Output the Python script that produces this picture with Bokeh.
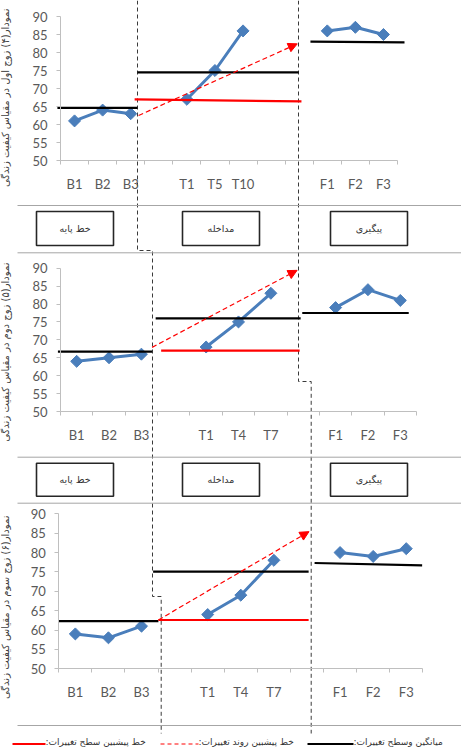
import numpy as np
from bokeh.plotting import figure
from bokeh.models import Range1d, LinearAxis, FixedTicker, Arrow, NormalHead
from bokeh.core.properties import value
from bokeh.embed import file_html
from bokeh.resources import INLINE

# ---------------- data ----------------
cats_1 = ["B1", "B2", "B3", "", "T1", "T5", "T10", "", "", "F1", "F2", "F3"]
cats_2 = ["B1", "B2", "B3", "", "T1", "T4", "T7", "", "F1", "F2", "F3"]
cats_3 = ["B1", "B2", "B3", "", "T1", "T4", "T7", "", "F1", "F2", "F3"]

base_1 = [61, 64, 63]
treat_1 = [67, 75, 86]
follow_1 = [86, 87, 85]

base_2 = [64, 65, 66]
treat_2 = [68, 75, 83]
follow_2 = [79, 84, 81]

base_3 = [59, 58, 61]
treat_3 = [64, 69, 78]
follow_3 = [80, 79, 81]

# hand-drawn guide lines (x in category slots, y in score units)
mean_x_1 = [[0.39, 3.24], [3.24, 8.98], [9.40, 12.75]]
mean_y_1 = [[64.6, 64.6], [74.5, 74.5], [83.0, 82.8]]
level_x_1 = [3.14, 9.08]
level_y_1 = [67.0, 66.4]
trend_x_1 = [3.28, 8.93]
trend_y_1 = [62.5, 82.4]

mean_x_2 = [[0.42, 3.33], [3.44, 7.92], [7.97, 11.26]]
mean_y_2 = [[66.7, 66.7], [76.0, 76.0], [77.5, 77.5]]
level_x_2 = [3.61, 7.89]
level_y_2 = [67.0, 67.0]
trend_x_2 = [3.33, 7.81]
trend_y_2 = [67.9, 89.4]

mean_x_3 = [[0.50, 3.51], [3.35, 8.05], [8.23, 11.48]]
mean_y_3 = [[62.3, 62.3], [75.1, 75.1], [77.3, 76.7]]
level_x_3 = [3.51, 8.05]
level_y_3 = [62.6, 62.6]
trend_x_3 = [3.51, 8.06]
trend_y_3 = [62.6, 85.4]

y_ticks = [50, 55, 60, 65, 70, 75, 80, 85, 90]

titles = [
    "نمودار(۴) زوج اول در مقیاس کیفیت زندگی",
    "نمودار(۵) زوج دوم در مقیاس کیفیت زندگی",
    "نمودار(۶) زوج سوم در مقیاس کیفیت زندگی",
]
phase_labels = ["خط پایه", "مداخله", "پیگیری"]
legend_labels = [
    "خط پیشبین سطح تغییرات:\u200f",
    "خط پیشبین روند تغییرات:\u200f",
    "میانگین وسطح تغییرات:\u200f",
]

# ---------------- layout (reference pixel geometry) ----------------
W, H = 461, 749


def cx(rx):
    return rx


def cy(ry):
    return ry


BLUE = "#4a7ebb"
AXIS = "#bfbfbf"
TICK_TXT = "#595959"
NUM_FONT = "Lato"
FA_FONT = "DejaVu Sans"

p = figure(width=W, height=H, x_range=Range1d(0, W), y_range=Range1d(H, 0),
           x_axis_type=None, y_axis_type=None, toolbar_location=None,
           output_backend="svg", min_border=0, outline_line_color=None,
           background_fill_color="white", border_fill_color="white")

panels = [
    dict(cats=cats_1, series=[base_1, treat_1, follow_1],
         mean_x=mean_x_1, mean_y=mean_y_1, level_x=level_x_1, level_y=level_y_1,
         trend_x=trend_x_1, trend_y=trend_y_1, frame=(60, 397, 16, 160),
         title=titles[0], title_top=8),
    dict(cats=cats_2, series=[base_2, treat_2, follow_2],
         mean_x=mean_x_2, mean_y=mean_y_2, level_x=level_x_2, level_y=level_y_2,
         trend_x=trend_x_2, trend_y=trend_y_2, frame=(60, 416, 267.7, 411),
         title=titles[1], title_top=262),
    dict(cats=cats_3, series=[base_3, treat_3, follow_3],
         mean_x=mean_x_3, mean_y=mean_y_3, level_x=level_x_3, level_y=level_y_3,
         trend_x=trend_x_3, trend_y=trend_y_3, frame=(58.3, 422.3, 513.3, 668.3),
         title=titles[2], title_top=515),
]

# ---- phase-change dashed lines, separators, phase boxes (canvas coords) ----
left_path_x = [137, 137, 152, 152, 160.7, 160.7]
left_path_y = [0, 250, 250, 596, 596, 733]
right_path_x = [298, 298, 310.7, 310.7]
right_path_y = [0, 381, 381, 733]
for px_, py_ in ((left_path_x, left_path_y), (right_path_x, right_path_y)):
    p.line([cx(v) for v in px_], [cy(v) for v in py_], line_color="#3a3a3a",
           line_width=1, line_dash="4 3")

sep_y = [205, 252.3, 456.7, 502.7, 725]
p.segment(x0=[cx(17)] * len(sep_y), x1=[W] * len(sep_y),
          y0=[cy(v) for v in sep_y], y1=[cy(v) for v in sep_y],
          line_color="#a6a6a6", line_width=1)

box_cx = [74.5, 220.5, 368.5]
box_rows = [(211, 245), (462.7, 495.7)]
for (t, b) in box_rows:
    p.rect(x=[cx(v) for v in box_cx], y=[cy((t + b) / 2)] * 3, width=77,
           height=(b - t), fill_color="white", line_color="#262626",
           line_width=1.6)
    p.text(x=[cx(v) for v in box_cx], y=[cy((t + b) / 2)] * 3, text=phase_labels,
           text_align="center", text_baseline="middle",
           text_font=value(FA_FONT), text_font_size="9.5px", text_color="#333333")

# ---- panels ----
for i, pn in enumerate(panels):
    cats = pn["cats"]
    n = len(cats)
    axl, axr, y90, y50 = pn["frame"]
    l, r = cx(axl), cx(axr)
    ux = (r - l) / n
    t, b = cy(y90), cy(y50)
    uy = (b - t) / 40.0
    xn, yn = f"x{i}", f"y{i}"
    p.extra_x_ranges[xn] = Range1d(0.5 - l / ux, 0.5 + (W - l) / ux)
    p.extra_y_ranges[yn] = Range1d(50 - (H - b) / uy, 90 + t / uy)

    yax = LinearAxis(x_range_name=xn, y_range_name=yn, fixed_location=0.5,
                     bounds=(50, 90), ticker=FixedTicker(ticks=y_ticks, minor_ticks=[]),
                     axis_line_color=AXIS, major_tick_line_color=AXIS,
                     major_tick_out=4, major_tick_in=0, minor_tick_line_color=None,
                     major_label_text_font=NUM_FONT, major_label_text_font_size="13px",
                     major_label_text_color=TICK_TXT, major_label_standoff=9)
    p.add_layout(yax, "left")

    labeled = [k + 1 for k, c in enumerate(cats) if c]
    xax = LinearAxis(x_range_name=xn, y_range_name=yn, fixed_location=50,
                     bounds=(0.5, n + 0.5),
                     ticker=FixedTicker(ticks=labeled,
                                        minor_ticks=[k + 0.5 for k in range(n + 1)]),
                     major_label_overrides={k: cats[k - 1] for k in labeled},
                     axis_line_color=AXIS, major_tick_line_color=None,
                     major_tick_out=0, major_tick_in=0,
                     minor_tick_line_color=AXIS, minor_tick_out=4, minor_tick_in=0,
                     major_label_text_font=NUM_FONT, major_label_text_font_size="13px",
                     major_label_text_color=TICK_TXT, major_label_standoff=11)
    p.add_layout(xax, "below")

    # y title as rotated text
    p.text(x=[5], y=[cy(pn["title_top"])], text=[pn["title"]], angle=np.pi / 2,
           text_align="right", text_baseline="middle", text_font=value(FA_FONT),
           text_font_size="10px", text_color="#404040")

    # data series
    for s, vals in enumerate(pn["series"]):
        xs = labeled[3 * s:3 * s + 3]
        p.line(xs, vals, x_range_name=xn, y_range_name=yn, line_color=BLUE,
               line_width=3)
        p.scatter(xs, vals, x_range_name=xn, y_range_name=yn, marker="square",
                  angle=np.pi / 4, size=8.5, fill_color=BLUE, line_color=BLUE)

    # mean lines (black)
    p.multi_line(pn["mean_x"], pn["mean_y"], x_range_name=xn, y_range_name=yn,
                 line_color="black", line_width=2.2)
    # level prediction (red solid)
    p.line(pn["level_x"], pn["level_y"], x_range_name=xn, y_range_name=yn,
           line_color="#ff0000", line_width=2.2)
    # trend prediction (red dashed arrow)
    p.add_layout(Arrow(end=NormalHead(size=9, fill_color="#ff0000", line_color="#ff0000"),
                       x_start=pn["trend_x"][0], y_start=pn["trend_y"][0],
                       x_end=pn["trend_x"][1], y_end=pn["trend_y"][1],
                       x_range_name=xn, y_range_name=yn, line_color="#ff0000",
                       line_width=1.2, line_dash="5 3"))

# ---- legend ----
leg_y = cy(743.5)
leg_line_x = [[12, 45], [160, 198], [307, 353]]
leg_colors = ["#ff0000", "#ff8080", "black"]
leg_dash = ["solid", "4 3", "solid"]
for k in range(3):
    p.line([cx(v) for v in leg_line_x[k]], [leg_y, leg_y], line_color=leg_colors[k],
           line_width=2, line_dash=leg_dash[k])
p.text(x=[cx(v[1]) for v in leg_line_x], y=[leg_y - 2] * 3, text=legend_labels,
       text_align="left", text_baseline="middle", text_font=value(FA_FONT),
       text_font_size="9px", text_color="#333333")

open("out.html", "w").write(file_html(p, INLINE))
